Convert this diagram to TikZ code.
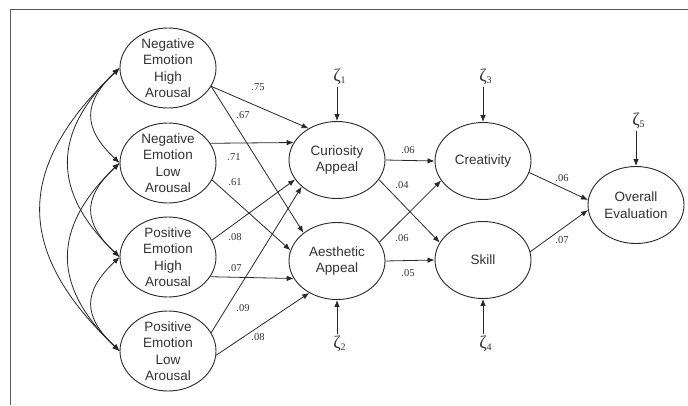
\documentclass[tikz,border=0pt]{standalone}
\usepackage{fontspec}
\setmainfont{Liberation Serif}
\setsansfont{Liberation Sans}
\usetikzlibrary{shapes.geometric,arrows.meta}
\definecolor{lc}{RGB}{40,40,40}
\definecolor{tc}{RGB}{50,50,50}
\definecolor{fc}{RGB}{90,90,90}
\newcommand{\zt}[1]{{\fontsize{18}{18}\selectfont ζ}\rlap{\raisebox{-2pt}{\fontsize{10}{10}\selectfont #1}}}
\begin{document}
\begin{tikzpicture}[x=1pt,y=-1pt,
  ell/.style={draw=lc, line width=0.9pt, ellipse, minimum width=96pt, minimum height=80pt, inner sep=0pt},
  mell/.style={ell, minimum height=77pt},
  txt/.style={font=\sffamily\fontsize{13.5}{16.5}\selectfont, align=center, text=tc, inner sep=0pt},
  coef/.style={font=\fontsize{10.5}{12}\selectfont, text=tc, inner sep=0pt},
  zeta/.style={text=tc, inner sep=1.5pt},
  arr/.style={draw=lc, line width=0.8pt, -{Latex[length=7pt,width=5.5pt]}},
  cov/.style={draw=lc, line width=0.8pt, {Latex[length=7pt,width=5.5pt]}-{Latex[length=7pt,width=5.5pt]}},
  frame/.style={draw=fc, line width=1pt}
]
\useasboundingbox (0,0) rectangle (688,405);
\fill[white] (0,0) rectangle (688,405);
\draw[frame] (10,405) -- (10,9) -- (688,9);

% exogenous
\node[ell] (neha) at (168,68) {};
\node[txt] (neha-t) at (neha) {Negative\\Emotion\\High\\Arousal};
\node[ell] (nela) at (168,163) {};
\node[txt] (nela-t) at (nela) {Negative\\Emotion\\Low\\Arousal};
\node[ell] (peha) at (168,257) {};
\node[txt] (peha-t) at (peha) {Positive\\Emotion\\High\\Arousal};
\node[ell] (pela) at (168,351) {};
\node[txt] (pela-t) at (pela) {Positive\\Emotion\\Low\\Arousal};

% mediators
\node[mell] (cur) at (337,160) {};
\node[txt] (cur-t) at (cur) {Curiosity\\Appeal};
\node[mell] (aes) at (337,261) {};
\node[txt] (aes-t) at (aes) {Aesthetic\\Appeal};
\node[mell] (cre) at (483,161) {};
\node[txt] (cre-t) at (cre) {Creativity};
\node[mell] (ski) at (483,260) {};
\node[txt] (ski-t) at (ski) {Skill};
\node[mell] (ove) at (636,205) {};
\node[txt] (ove-t) at (ove) {Overall\\Evaluation};

% disturbances
\node[zeta] (z1) at (337,77) {\zt{1}};
\node[zeta] (z2) at (337,344) {\zt{2}};
\node[zeta] (z3) at (483,77) {\zt{3}};
\node[zeta] (z4) at (483,344) {\zt{4}};
\node[zeta] (z5) at (636,121) {\zt{5}};
\draw[arr] (z1) -- (cur);
\draw[arr] (z2) -- (aes);
\draw[arr] (z3) -- (cre);
\draw[arr] (z4) -- (ski);
\draw[arr] (z5) -- (ove);

% covariances
\draw[cov] (neha.west) .. controls +(-37,35) and +(-37,-35) .. (nela.west);
\draw[cov] (nela.west) .. controls +(-37,35) and +(-37,-35) .. (peha.west);
\draw[cov] (peha.west) .. controls +(-37,35) and +(-37,-35) .. (pela.west);
\draw[cov] (neha.west) .. controls +(-68,65) and +(-68,-65) .. (peha.west);
\draw[cov] (nela.west) .. controls +(-68,65) and +(-68,-65) .. (pela.west);
\draw[cov] (neha.west) .. controls +(-105,100) and +(-105,-100) .. (pela.west);

% paths emotion -> appeal
\draw[arr] (neha.-23) -- (cur.132);
\draw[arr] (neha.-23) -- (aes.140);
\draw[arr] (nela.25) -- (cur.158);
\draw[arr] (nela.-21) -- (aes.167);
\draw[arr] (peha.21) -- (cur.205);
\draw[arr] (peha.-25) -- (aes.202);
\draw[arr] (pela.23) -- (cur.217);
\draw[arr] (pela.-5) -- (aes.229);

\node[coef] (l1) at (258,87) {.75};
\node[coef] (l2) at (243,115) {.67};
\node[coef] (l3) at (234,157) {.71};
\node[coef] (l4) at (235,182) {.61};
\node[coef] (l5) at (235,237) {.08};
\node[coef] (l6) at (235,268) {.07};
\node[coef] (l7) at (243,308) {.09};
\node[coef] (l8) at (258,337) {.08};

% appeal -> creativity / skill
\draw[arr] (cur.east) -- (cre.west);
\draw[arr] (cur.-25) -- (ski.158);
\draw[arr] (aes.24) -- (cre.205);
\draw[arr] (aes.east) -- (ski.west);

\node[coef] (m1) at (408,150) {.06};
\node[coef] (m2) at (402,185) {.04};
\node[coef] (m3) at (402,238) {.06};
\node[coef] (m4) at (408,273) {.05};

% -> overall
\draw[arr] (cre.-14) -- (ove.174);
\draw[arr] (ski.10) -- (ove.186);
\node[coef] (o1) at (562,178) {.06};
\node[coef] (o2) at (562,240) {.07};
\end{tikzpicture}
\end{document}
